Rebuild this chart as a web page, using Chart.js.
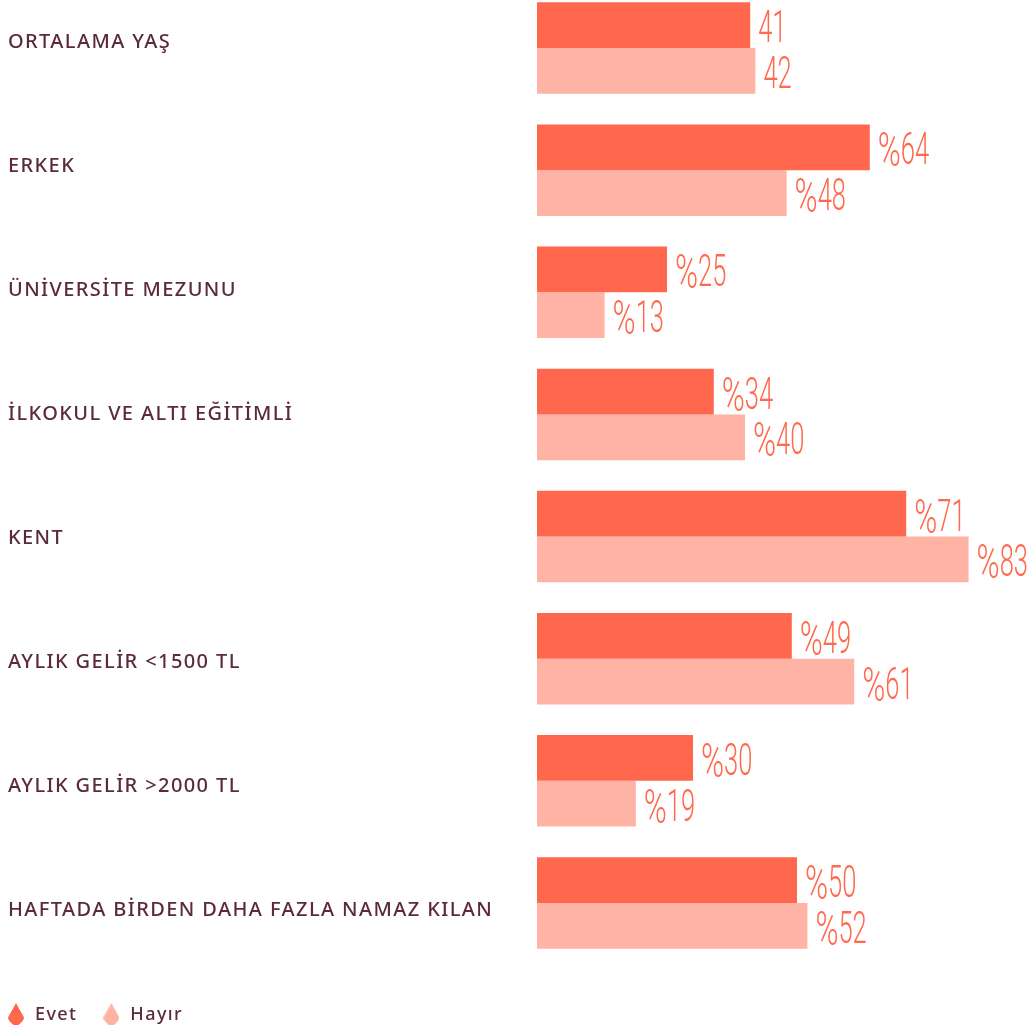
<!DOCTYPE html>
<html lang="tr">
<head>
<meta charset="utf-8">
<title>Profil</title>
<script src="https://cdn.jsdelivr.net/npm/chart.js@4/dist/chart.umd.min.js"></script>
<style>
  html, body { margin: 0; padding: 0; background: #fff; overflow: hidden; }
  .chart-box { position: absolute; left: 0; top: -13px; width: 1031px; height: 1047px; }
</style>
</head>
<body>
<div class="chart-box"><canvas id="profileChart"></canvas></div>
<script>
  "use strict";

  var categories = [
    'ORTALAMA YAŞ',
    'ERKEK',
    'ÜNİVERSİTE MEZUNU',
    'İLKOKUL VE ALTI EĞİTİMLİ',
    'KENT',
    'AYLIK GELİR <1500 TL',
    'AYLIK GELİR >2000 TL',
    'HAFTADA BİRDEN DAHA FAZLA NAMAZ KILAN'
  ];
  var evetValues = [41, 64, 25, 34, 71, 49, 30, 50];
  var hayirValues = [42, 48, 13, 40, 83, 61, 19, 52];
  // age is a plain number, the rest are percentages
  var valuePrefixes = ['', '%', '%', '%', '%', '%', '%', '%'];

  var evetColor = '#ff684c';
  var hayirColor = '#ffb3a5';
  var textColor = '#5b2b3b';
  var numberColor = '#ff6a4f';

  // row names run on a slightly wider rhythm than the bar groups
  var rowNameMin = -0.442;
  var rowNameMax = 7.435;

  // small kite-shaped marker for the legend
  function makeMarker(color) {
    var c = document.createElement('canvas');
    c.width = 16;
    c.height = 24;
    var g = c.getContext('2d');
    g.fillStyle = color;
    g.beginPath();
    g.moveTo(8, 0);
    g.lineTo(16, 14.5);
    g.quadraticCurveTo(16, 18, 8, 24);
    g.quadraticCurveTo(0, 18, 0, 14.5);
    g.closePath();
    g.fill();
    return c;
  }

  function pinRowRange(scale) {
    scale.min = rowNameMin;
    scale.max = rowNameMax;
    scale._startValue = rowNameMin;
    scale._endValue = rowNameMax;
    scale._valueRange = rowNameMax - rowNameMin;
  }

  // numbers next to each bar, in a narrow face
  var valueLabels = {
    id: 'valueLabels',
    afterDatasetsDraw: function (chart) {
      var ctx = chart.ctx;
      chart.data.datasets.forEach(function (ds, di) {
        var meta = chart.getDatasetMeta(di);
        meta.data.forEach(function (bar, i) {
          var x = bar.x + 8;
          var y = bar.y + 17;
          ctx.save();
          ctx.fillStyle = numberColor;
          ctx.textAlign = 'left';
          ctx.textBaseline = 'alphabetic';
          if (valuePrefixes[i]) {
            ctx.save();
            ctx.translate(x, y + 2);
            ctx.scale(0.65, 1);
            ctx.font = '300 48px Roboto';
            ctx.fillText(valuePrefixes[i], 0, 0);
            x += ctx.measureText(valuePrefixes[i]).width * 0.65;
            ctx.restore();
          }
          ctx.translate(x, y);
          ctx.scale(0.58, 1);
          ctx.font = '300 44px Roboto';
          ctx.fillText(String(ds.data[i]), 0, 0);
          ctx.restore();
        });
      });
    }
  };

  // pull the legend row to the left edge instead of starting after its padding,
  // and keep the row-name axis on its own range once layout is done
  var layoutFixes = {
    id: 'layoutFixes',
    afterLayout: function (chart) {
      if (chart.legend) {
        chart.legend.left = 6 - chart.legend.options.labels.padding;
      }
      pinRowRange(chart.scales.rowNames);
    }
  };

  // tracked-out caps for the row names and legend
  var labelSpacing = {
    id: 'labelSpacing',
    beforeDraw: function (chart) {
      pinRowRange(chart.scales.rowNames);
      chart.ctx.letterSpacing = '1.4px';
    },
    beforeDatasetsDraw: function (chart) { chart.ctx.letterSpacing = '0px'; }
  };

  var ctx = document.getElementById('profileChart').getContext('2d');
  var profileChart = new Chart(ctx, {
    type: 'bar',
    data: {
      labels: categories,
      datasets: [
        {
          label: 'Evet',
          data: evetValues,
          backgroundColor: evetColor,
          pointStyle: makeMarker(evetColor),
          categoryPercentage: 0.75,
          barPercentage: 1
        },
        {
          label: 'Hayır',
          data: hayirValues,
          backgroundColor: hayirColor,
          pointStyle: makeMarker(hayirColor),
          categoryPercentage: 0.75,
          barPercentage: 1
        }
      ]
    },
    options: {
      indexAxis: 'y',
      responsive: true,
      maintainAspectRatio: false,
      animation: false,
      layout: { padding: { left: 8, right: 0, top: 0, bottom: 0 } },
      scales: {
        x: {
          min: 0,
          max: 95,
          ticks: { display: false },
          grid: { display: false },
          border: { display: false },
          afterFit: function (scale) {
            scale.height = 18;
            scale.paddingLeft = 0;
            scale.paddingRight = 0;
          }
        },
        y: {
          display: false
        },
        rowNames: {
          type: 'linear',
          axis: 'y',
          position: 'left',
          reverse: true,
          bounds: 'data',
          min: rowNameMin,
          max: rowNameMax,
          grid: { display: false },
          border: { display: false },
          afterBuildTicks: function (scale) {
            scale.ticks = categories.map(function (c, i) { return { value: i }; });
            pinRowRange(scale);
          },
          ticks: {
            autoSkip: false,
            crossAlign: 'far',
            padding: 0,
            color: textColor,
            font: { family: 'Noto Sans', size: 20, weight: '500' },
            callback: function (value) { return categories[value]; }
          },
          afterFit: function (scale) {
            scale.width = 529;
            scale.paddingTop = 0;
            scale.paddingBottom = 0;
          }
        }
      },
      plugins: {
        legend: {
          position: 'bottom',
          align: 'start',
          labels: {
            usePointStyle: true,
            pointStyleWidth: 20,
            boxHeight: 16,
            padding: 24,
            color: textColor,
            font: { family: 'Noto Sans', size: 18, weight: '500' }
          }
        },
        tooltip: { enabled: false }
      }
    },
    plugins: [valueLabels, layoutFixes, labelSpacing]
  });
</script>
</body>
</html>
